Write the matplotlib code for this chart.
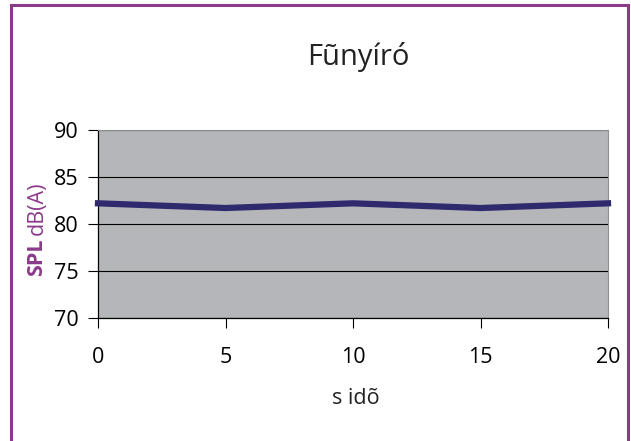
import matplotlib.pyplot as plt
from matplotlib.patches import Rectangle

# data
times = [0, 5, 10, 15, 20]
spl = [82.2, 81.7, 82.2, 81.7, 82.2]
y_ticks = [70, 75, 80, 85, 90]
x_ticks = [0, 5, 10, 15, 20]

purple = '#8c3a8a'
line_col = '#2f2a6e'

plt.rcParams['font.family'] = ['Open Sans', 'DejaVu Sans']

W, H = 631, 441
fig = plt.figure(figsize=(W / 100, H / 100), dpi=100)
fig.patch.set_facecolor('white')

# purple frame round the whole chart (bottom edge runs off the image)
fig.patches.append(Rectangle((11 / W, -0.05), (628 - 11) / W, 1.05 - 5 / H,
                             transform=fig.transFigure, fill=False,
                             edgecolor=purple, linewidth=2.2))

ax = fig.add_axes([98 / W, (H - 318) / H, 510 / W, 188 / H])
ax.set_facecolor('#b5b6b9')
ax.plot(times, spl, color=line_col, linewidth=4.5, clip_on=False,
        solid_capstyle='projecting', zorder=3)

ax.set_xlim(0, 20)
ax.set_ylim(70, 90)
ax.set_xticks(x_ticks)
ax.set_yticks(y_ticks)
ax.yaxis.grid(True, color='black', linewidth=0.8)
ax.set_axisbelow(True)
ax.tick_params(axis='both', labelsize=15.5, length=7, width=0.8,
               color='black', pad=7)
ax.tick_params(axis='x', pad=14)

for s in ['top', 'right']:
    ax.spines[s].set_color('#8f9094')
    ax.spines[s].set_linewidth(0.8)
ax.spines['left'].set_linewidth(0.9)
ax.spines['bottom'].set_linewidth(0.9)

fig.text(358 / W, 1 - 57 / H, 'Fũnyíró', ha='center', va='center',
         fontsize=21, color='#222222')
fig.text(356 / W, 1 - 398 / H, 's idõ', ha='center', va='center',
         fontsize=15.5, color='#222222')

# y label: bold "SPL" followed by normal "dB(A)", both purple
fig.text(37 / W, 1 - 276 / H, 'SPL', rotation=90, ha='center', va='bottom',
         fontsize=15.5, fontweight='bold', color=purple)
fig.text(37 / W, 1 - 235 / H, 'dB(A)', rotation=90, ha='center', va='bottom',
         fontsize=15.5, color=purple)

fig.savefig('out.png', dpi=100)
